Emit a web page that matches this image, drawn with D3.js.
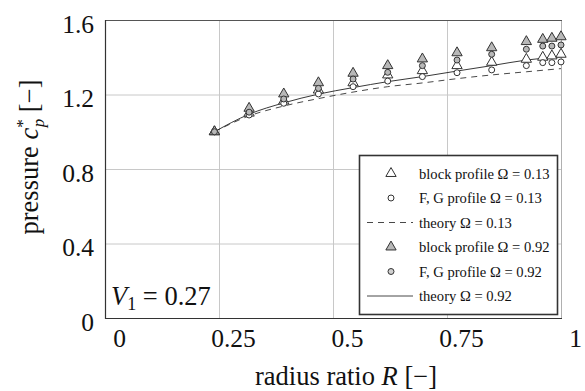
<!DOCTYPE html>
<html>
<head>
<meta charset="utf-8">
<script src="https://cdn.jsdelivr.net/npm/d3@7"></script>
<style>
  html, body { margin: 0; padding: 0; background: #fff; }
  svg { display: block; font-family: "Liberation Serif", "DejaVu Serif", serif; }
</style>
</head>
<body>
<svg id="chart" width="585" height="391"></svg>
<script>
// Measured radius ratios
const radiusRatio = [0.24, 0.316, 0.392, 0.468, 0.544, 0.62, 0.696, 0.772, 0.848, 0.924, 0.96, 0.98, 1.0];
// Ω = 0.13
const blockLow = [1.0, 1.10, 1.165, 1.224, 1.263, 1.305, 1.328, 1.355, 1.373, 1.389, 1.400, 1.407, 1.416];
const fgLow    = [1.0, 1.09, 1.153, 1.203, 1.242, 1.272, 1.296, 1.317, 1.332, 1.355, 1.371, 1.371, 1.375];
// Ω = 0.92
const blockHigh = [1.0, 1.126, 1.203, 1.263, 1.314, 1.355, 1.391, 1.424, 1.451, 1.484, 1.496, 1.502, 1.510];
const fgHigh    = [1.0, 1.105, 1.176, 1.233, 1.283, 1.319, 1.355, 1.385, 1.416, 1.443, 1.460, 1.460, 1.466];
// Theory curves
const theoryR    = [0.24, 0.316, 0.392, 0.468, 0.544, 0.62, 0.696, 0.772, 0.848, 0.924, 1.0];
const theoryLow  = [1.0, 1.085, 1.138, 1.178, 1.213, 1.242, 1.262, 1.285, 1.305, 1.322, 1.339];
const theoryHigh = [1.0, 1.094, 1.155, 1.202, 1.237, 1.269, 1.296, 1.326, 1.355, 1.385, 1.403];
// Ticks
const xTicks = [0, 0.25, 0.5, 0.75, 1];
const xTickLabels = ["0", "0.25", "0.5", "0.75", "1"];
const yTicks = [0, 0.4, 0.8, 1.2, 1.6];
const yTickLabels = ["0", "0.4", "0.8", "1.2", "1.6"];

const svg = d3.select("#chart");
const x = d3.scaleLinear().domain([0, 1]).range([105, 561]);
const y = d3.scaleLinear().domain([0, 1.6]).range([318, 20]);

svg.append("rect").attr("width", 585).attr("height", 391).attr("fill", "#fff");

// grid
const grid = svg.append("g").attr("stroke", "#c8c8c8").attr("stroke-width", 1);
[0.25, 0.5, 0.75].forEach(v => grid.append("line")
  .attr("x1", x(v) + 0.5).attr("x2", x(v) + 0.5).attr("y1", y(1.6)).attr("y2", y(0)));
[0.4, 0.8, 1.2].forEach(v => grid.append("line")
  .attr("x1", x(0)).attr("x2", x(1)).attr("y1", y(v) + 0.5).attr("y2", y(v) + 0.5));

// frame
svg.append("line").attr("x1", x(1) + 0.5).attr("x2", x(1) + 0.5).attr("y1", y(1.6)).attr("y2", y(0))
  .attr("stroke", "#b0b0b0");
svg.append("line").attr("x1", x(0)).attr("x2", x(1) + 1).attr("y1", y(1.6) + 0.5).attr("y2", y(1.6) + 0.5)
  .attr("stroke", "#555");
svg.append("line").attr("x1", x(0) + 0.5).attr("x2", x(0) + 0.5).attr("y1", y(1.6)).attr("y2", y(0) + 1)
  .attr("stroke", "#333").attr("stroke-width", 1.2);
svg.append("line").attr("x1", x(0)).attr("x2", x(1) + 1).attr("y1", y(0) + 0.5).attr("y2", y(0) + 0.5)
  .attr("stroke", "#333").attr("stroke-width", 1.2);

// axes (labels only)
const xAxis = d3.axisBottom(x).tickValues(xTicks).tickSize(0)
  .tickFormat((d, i) => xTickLabels[i]);
const gx = svg.append("g").attr("transform", `translate(0,${y(0)})`).call(xAxis);
gx.select(".domain").remove();
gx.selectAll("text").attr("font-size", 25.5).attr("fill", "#111")
  .attr("font-family", "Liberation Serif, serif")
  .attr("dy", null).attr("y", 29).attr("dx", 14);

const yAxis = d3.axisLeft(y).tickValues(yTicks).tickSize(0)
  .tickFormat((d, i) => yTickLabels[i]);
const gy = svg.append("g").attr("transform", `translate(${x(0)},0)`).call(yAxis);
gy.select(".domain").remove();
gy.selectAll("text").attr("font-size", 25.5).attr("fill", "#111")
  .attr("font-family", "Liberation Serif, serif")
  .attr("dy", null).attr("x", -11).attr("y", 12);

// axis titles
const xt = svg.append("text").attr("x", 346).attr("y", 385).attr("text-anchor", "middle")
  .attr("font-size", 26.5).attr("fill", "#111");
xt.append("tspan").text("radius ratio ");
xt.append("tspan").attr("font-style", "italic").text("R");
xt.append("tspan").text(" [−]");

const yt = svg.append("text").attr("transform", "translate(38,157) rotate(-90)")
  .attr("text-anchor", "middle").attr("font-size", 26.5).attr("fill", "#111");
yt.append("tspan").text("pressure ");
yt.append("tspan").attr("font-style", "italic").text("c");
yt.append("tspan").attr("font-size", 17).attr("dy", -10).text("*");
yt.append("tspan").attr("font-size", 17).attr("font-style", "italic").attr("dx", -8).attr("dy", 16).text("p");
yt.append("tspan").attr("dy", -6).text(" [−]");

// theory lines
const line = d3.line().x(d => x(d[0])).y(d => y(d[1])).curve(d3.curveMonotoneX);
svg.append("path").datum(theoryR.map((r, i) => [r, theoryLow[i]]))
  .attr("d", line).attr("fill", "none").attr("stroke", "#333").attr("stroke-width", 0.9)
  .attr("stroke-dasharray", "6,5");
svg.append("path").datum(theoryR.map((r, i) => [r, theoryHigh[i]]))
  .attr("d", line).attr("fill", "none").attr("stroke", "#222").attr("stroke-width", 0.9);

// markers
const tri = d3.symbol().type(d3.symbolTriangle).size(46);
const circ = d3.symbol().type(d3.symbolCircle).size(28);
function markers(vals, sym, fill) {
  svg.append("g").selectAll("path").data(radiusRatio.map((r, i) => [r, vals[i]]))
    .join("path").attr("d", sym)
    .attr("transform", d => `translate(${x(d[0])},${y(d[1])})`)
    .attr("fill", fill).attr("stroke", "#333").attr("stroke-width", 1);
}
markers(blockLow, tri, "#fff");
markers(fgLow, circ, "#fff");
markers(blockHigh, tri, "#b8b8b8");
markers(fgHigh, circ, "#b8b8b8");

// V1 annotation
const v1 = svg.append("text").attr("x", 111).attr("y", 305).attr("font-size", 26.5).attr("fill", "#111");
v1.append("tspan").attr("font-style", "italic").text("V");
v1.append("tspan").attr("font-size", 18).attr("dy", 5).text("1");
v1.append("tspan").attr("dy", -5).text(" = 0.27");

// legend
const legend = svg.append("g");
legend.append("rect").attr("x", 359.5).attr("y", 155.5).attr("width", 198).attr("height", 159)
  .attr("fill", "#fff").attr("stroke", "#333").attr("stroke-width", 1.6);
const entries = [
  {label: "block profile Ω = 0.13", kind: "tri", fill: "#fff"},
  {label: "F, G profile Ω = 0.13", kind: "circ", fill: "#fff"},
  {label: "theory Ω = 0.13", kind: "dash"},
  {label: "block profile Ω = 0.92", kind: "tri", fill: "#b8b8b8"},
  {label: "F, G profile Ω = 0.92", kind: "circ", fill: "#d0d0d0"},
  {label: "theory Ω = 0.92", kind: "solid"}
];
entries.forEach((e, i) => {
  const cy = 173.5 + i * 24.5;
  if (e.kind === "tri" || e.kind === "circ") {
    legend.append("path").attr("d", e.kind === "tri" ? tri : circ)
      .attr("transform", `translate(391,${cy})`)
      .attr("fill", e.fill).attr("stroke", "#333").attr("stroke-width", 1);
  } else {
    legend.append("line").attr("x1", 367).attr("x2", 413).attr("y1", cy).attr("y2", cy)
      .attr("stroke", "#333").attr("stroke-width", 0.9)
      .attr("stroke-dasharray", e.kind === "dash" ? "6,5" : null);
  }
  legend.append("text").attr("x", 419).attr("y", cy + 5).attr("font-size", 14.6)
    .attr("fill", "#111").text(e.label);
});
</script>
</body>
</html>
